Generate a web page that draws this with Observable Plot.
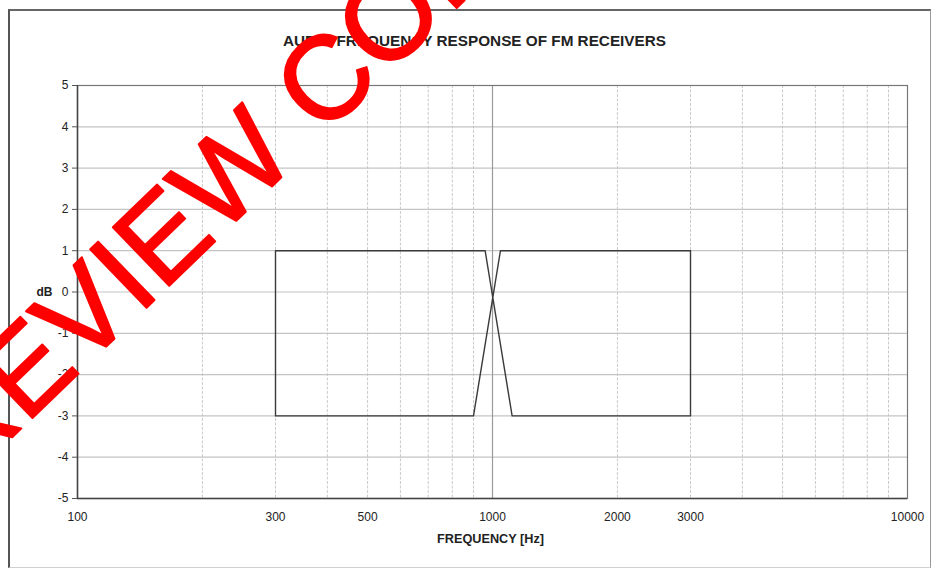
<!DOCTYPE html>
<html><head><meta charset="utf-8">
<script src="https://cdn.jsdelivr.net/npm/d3@7"></script>
<script src="https://cdn.jsdelivr.net/npm/@observablehq/plot@0.6"></script>
<style>
html,body{margin:0;padding:0;background:#fff;}
#wrap{position:relative;width:934px;height:568px;overflow:hidden;background:#fff;}
#box{position:absolute;left:8px;top:9px;width:920px;height:556px;border-left:2px solid #555;border-top:2px solid #666;border-right:1px solid #999;border-bottom:1px solid #d0d0d0;}
#chart{position:absolute;left:0;top:0;}
</style></head><body>
<div id="wrap"><div id="box"></div><div id="chart"></div></div>
<script>
const title = "AUDIO FREQUENCY RESPONSE OF FM RECEIVERS";
const xLabel = "FREQUENCY [Hz]";
const yLabel = "dB";
const maskFreq = [300, 300, 960, 1115, 3000, 3000, 1045, 900, 300];
const maskDb = [-3, 1, 1, -3, -3, 1, 1, -3, -3];
const xTickValues = [100, 300, 500, 1000, 2000, 3000, 10000];
const yTickValues = [-5, -4, -3, -2, -1, 0, 1, 2, 3, 4, 5];
const xGridValues = [200, 300, 400, 500, 600, 700, 800, 900, 2000, 3000, 4000, 5000, 6000, 7000, 8000, 9000];
const xMajorGrid = [1000];
const yGridValues = [-4, -3, -2, -1, 0, 1, 2, 3, 4];
const watermark = "PREVIEW COPY";

const pts = maskFreq.map((f, i) => ({f, db: maskDb[i]}));

const chart = Plot.plot({
  width: 934, height: 568,
  marginLeft: 77, marginRight: 27, marginTop: 85, marginBottom: 70,
  style: {fontFamily: "'Liberation Sans', Arial, sans-serif", fontSize: "12px", color: "#222", background: "transparent", overflow: "visible"},
  x: {type: "log", domain: [100, 10000]},
  y: {domain: [-5, 5]},
  marks: [
    Plot.ruleX(xGridValues, {stroke: "#cacaca", strokeWidth: 1, strokeDasharray: "3,1.5"}),
    Plot.ruleY(yGridValues, {stroke: "#c4c4c4", strokeWidth: 1.2}),
    Plot.ruleX(xMajorGrid, {stroke: "#9a9a9a", strokeWidth: 1.2}),
    Plot.frame({stroke: "#777", strokeWidth: 1.2}),
    Plot.ruleX([100], {stroke: "#444", strokeWidth: 1.5}),
    Plot.ruleY([-5], {stroke: "#444", strokeWidth: 1.5}),
    Plot.axisY(yTickValues, {tickSize: 5, tickPadding: 4, label: null, fontSize: 12, stroke: "#555", fill: "#222", tickFormat: d => String(d)}),
    Plot.axisX(xTickValues, {tickSize: 0, tickPadding: 14, label: null, fontSize: 12, fill: "#222", tickFormat: d => String(d)}),
    Plot.line(pts, {x: "f", y: "db", stroke: "#3a3a3a", strokeWidth: 1.4}),
    Plot.text([title], {text: d => d, frameAnchor: "top", dx: -18, dy: -50, fontWeight: "bold", fontSize: 15.3, fill: "#222"}),
    Plot.text([xLabel], {text: d => d, frameAnchor: "bottom", dx: -2, dy: 44, fontWeight: "bold", fontSize: 12.7, fill: "#222"}),
    Plot.text([yLabel], {text: d => d, frameAnchor: "left", dx: -41, fontWeight: "bold", fontSize: 12, fill: "#222"}),
    Plot.text([watermark], {text: d => d, frameAnchor: "top-left", dx: -170, dy: 453, rotate: -44, textAnchor: "start", lineAnchor: "bottom", fontSize: 118, fill: "#ff0000", stroke: "#ff0000", strokeWidth: 2, ariaLabel: "watermark"})
  ]
});
d3.select(chart).selectAll('g[aria-label="watermark"] text').attr("letter-spacing", 4);
document.getElementById("chart").appendChild(chart);
</script>
</body></html>
